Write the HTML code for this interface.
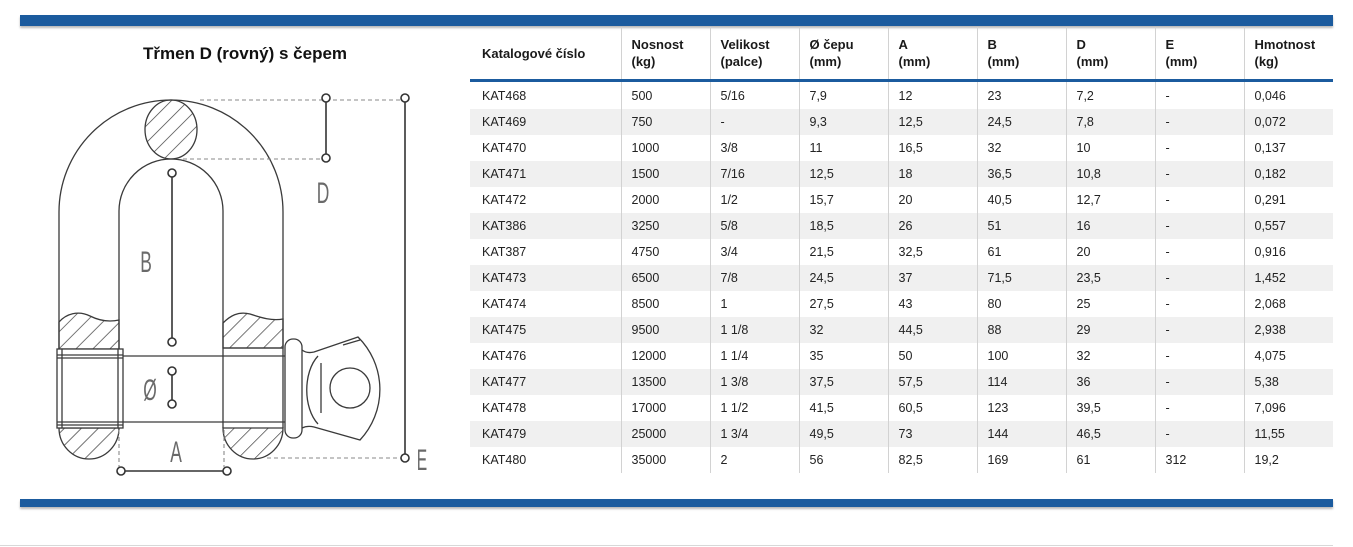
<!DOCTYPE html>
<html><head><meta charset="utf-8">
<style>
html,body{margin:0;padding:0;background:#fff;}
body{width:1353px;height:547px;position:relative;overflow:hidden;font-family:"Liberation Sans",Arial,sans-serif;}
.bar{position:absolute;left:20px;width:1313px;background:#1b5b9e;box-shadow:0 2px 2px rgba(0,0,0,0.28);}
.title{position:absolute;left:45px;width:400px;top:44px;text-align:center;font-weight:bold;font-size:17px;color:#111;line-height:20px;}
table{position:absolute;left:470px;top:27px;width:863px;border-collapse:collapse;table-layout:fixed;}
td,th{padding:0 0 0 10px;text-align:left;white-space:nowrap;vertical-align:middle;}
th{font-weight:bold;font-size:13px;color:#1a1a1a;height:52px;line-height:17px;border-bottom:3px solid #1b5b9e;}
td{color:#222;font-size:12.5px;height:26px;line-height:26px;}
td+td,th+th{border-left:1px solid #d2d2d2;}
th:first-child,td:first-child{padding-left:12px;}
tbody tr:first-child td{height:27px;}
tbody tr:nth-child(even) td{background:#f0f0f0;}
</style></head><body>
<div class="bar" style="top:15px;height:11px;"></div>
<div class="bar" style="top:499px;height:8px;"></div>
<div style="position:absolute;left:0;top:545px;width:1333px;height:1px;background:#d8d8d8;"></div>
<div class="title">Třmen D (rovný) s čepem</div>

<svg style="position:absolute;left:0;top:0" width="470" height="547" viewBox="0 0 470 547">
<defs>
<pattern id="h" patternUnits="userSpaceOnUse" width="12" height="12" patternTransform="rotate(45)">
<line x1="0" y1="0" x2="0" y2="12" stroke="#3a3a3a" stroke-width="1.4"/>
</pattern>
</defs>
<g fill="none" stroke="#3a3a3a" stroke-width="1.3">
<path d="M59,428 L59,212 A112,112 0 0 1 283,212 L283,428"/>
<path d="M119,428 L119,211 A52,52 0 0 1 223,211 L223,428"/>
<ellipse cx="171" cy="129.5" rx="26" ry="29.5" fill="url(#h)"/>
<path d="M59,322 C66,314 78,310 90,316 C100,321 110,322 119,320 L119,349 L59,349 Z" fill="url(#h)"/>
<path d="M223,323 C230,316 238,311 250,314 C262,318 272,321 283,319 L283,348 L223,348 Z" fill="url(#h)"/>
<path d="M59,428 A30,31 0 0 0 119,428 Z" fill="url(#h)"/>
<path d="M223,428 A30,31 0 0 0 283,428 Z" fill="url(#h)"/>
<rect x="57" y="349" width="66" height="79" fill="#fff"/>
<line x1="62" y1="349" x2="62" y2="428"/>
<line x1="118" y1="349" x2="118" y2="428"/>
<line x1="57" y1="355" x2="123" y2="355"/>
<line x1="57" y1="358" x2="123" y2="358"/>
<line x1="57" y1="422" x2="123" y2="422"/>
<line x1="57" y1="425" x2="123" y2="425"/>
<line x1="123" y1="356" x2="285" y2="356"/>
<line x1="123" y1="422" x2="285" y2="422"/>
<line x1="223" y1="348" x2="283" y2="348"/>
<rect x="285" y="339" width="17" height="99" rx="8" fill="#fff"/>
<path d="M302,350 C306,353 310,353 314,352 L358,337 A74,74 0 0 1 360,440 L314,427 C310,426 306,426 302,428"/>
<path d="M343,345 L360,340"/>
<path d="M318,356 C303,372 303,408 318,424"/>
<line x1="321" y1="363" x2="321" y2="413"/>
<circle cx="350" cy="388" r="20"/>
</g>
<g stroke="#8a8a8a" stroke-width="1.1" stroke-dasharray="4 3" fill="none">
<line x1="200" y1="100" x2="401" y2="100"/>
<line x1="183" y1="159" x2="322" y2="159"/>
<line x1="267" y1="458" x2="401" y2="458"/>
<line x1="119" y1="430" x2="119" y2="467"/>
<line x1="224" y1="430" x2="224" y2="467"/>
</g>
<g stroke="#333" stroke-width="1.6" fill="#fff">
<line x1="326" y1="98" x2="326" y2="158"/>
<line x1="405" y1="98" x2="405" y2="458"/>
<line x1="172" y1="173" x2="172" y2="342"/>
<line x1="172" y1="371" x2="172" y2="404"/>
<line x1="121" y1="471" x2="227" y2="471"/>
<circle cx="326" cy="98" r="4"/>
<circle cx="326" cy="158" r="4"/>
<circle cx="405" cy="98" r="4"/>
<circle cx="405" cy="458" r="4"/>
<circle cx="172" cy="173" r="4"/>
<circle cx="172" cy="342" r="4"/>
<circle cx="172" cy="371" r="4"/>
<circle cx="172" cy="404" r="4"/>
<circle cx="121" cy="471" r="4"/>
<circle cx="227" cy="471" r="4"/>
</g>
<g fill="#6a6a6a" font-family="Liberation Sans, sans-serif" font-size="30" text-anchor="middle">
<text transform="translate(323,203) scale(0.58,1)">D</text>
<text transform="translate(146,272) scale(0.58,1)">B</text>
<text transform="translate(150,400) scale(0.58,1)">Ø</text>
<text transform="translate(176,462) scale(0.58,1)">A</text>
<text transform="translate(422,470) scale(0.52,1)">E</text>
</g>
</svg>

<table>
<colgroup><col style="width:151px"><col style="width:89px"><col style="width:89px"><col style="width:89px"><col style="width:89px"><col style="width:89px"><col style="width:89px"><col style="width:89px"><col style="width:89px"></colgroup>
<thead><tr>
<th>Katalogové číslo</th><th>Nosnost<br>(kg)</th><th>Velikost<br>(palce)</th><th>Ø čepu<br>(mm)</th><th>A<br>(mm)</th><th>B<br>(mm)</th><th>D<br>(mm)</th><th>E<br>(mm)</th><th>Hmotnost<br>(kg)</th>
</tr></thead>
<tbody>
<tr><td>KAT468</td><td>500</td><td>5/16</td><td>7,9</td><td>12</td><td>23</td><td>7,2</td><td>-</td><td>0,046</td></tr>
<tr><td>KAT469</td><td>750</td><td>-</td><td>9,3</td><td>12,5</td><td>24,5</td><td>7,8</td><td>-</td><td>0,072</td></tr>
<tr><td>KAT470</td><td>1000</td><td>3/8</td><td>11</td><td>16,5</td><td>32</td><td>10</td><td>-</td><td>0,137</td></tr>
<tr><td>KAT471</td><td>1500</td><td>7/16</td><td>12,5</td><td>18</td><td>36,5</td><td>10,8</td><td>-</td><td>0,182</td></tr>
<tr><td>KAT472</td><td>2000</td><td>1/2</td><td>15,7</td><td>20</td><td>40,5</td><td>12,7</td><td>-</td><td>0,291</td></tr>
<tr><td>KAT386</td><td>3250</td><td>5/8</td><td>18,5</td><td>26</td><td>51</td><td>16</td><td>-</td><td>0,557</td></tr>
<tr><td>KAT387</td><td>4750</td><td>3/4</td><td>21,5</td><td>32,5</td><td>61</td><td>20</td><td>-</td><td>0,916</td></tr>
<tr><td>KAT473</td><td>6500</td><td>7/8</td><td>24,5</td><td>37</td><td>71,5</td><td>23,5</td><td>-</td><td>1,452</td></tr>
<tr><td>KAT474</td><td>8500</td><td>1</td><td>27,5</td><td>43</td><td>80</td><td>25</td><td>-</td><td>2,068</td></tr>
<tr><td>KAT475</td><td>9500</td><td>1 1/8</td><td>32</td><td>44,5</td><td>88</td><td>29</td><td>-</td><td>2,938</td></tr>
<tr><td>KAT476</td><td>12000</td><td>1 1/4</td><td>35</td><td>50</td><td>100</td><td>32</td><td>-</td><td>4,075</td></tr>
<tr><td>KAT477</td><td>13500</td><td>1 3/8</td><td>37,5</td><td>57,5</td><td>114</td><td>36</td><td>-</td><td>5,38</td></tr>
<tr><td>KAT478</td><td>17000</td><td>1 1/2</td><td>41,5</td><td>60,5</td><td>123</td><td>39,5</td><td>-</td><td>7,096</td></tr>
<tr><td>KAT479</td><td>25000</td><td>1 3/4</td><td>49,5</td><td>73</td><td>144</td><td>46,5</td><td>-</td><td>11,55</td></tr>
<tr><td>KAT480</td><td>35000</td><td>2</td><td>56</td><td>82,5</td><td>169</td><td>61</td><td>312</td><td>19,2</td></tr>
</tbody>
</table>
</body></html>
